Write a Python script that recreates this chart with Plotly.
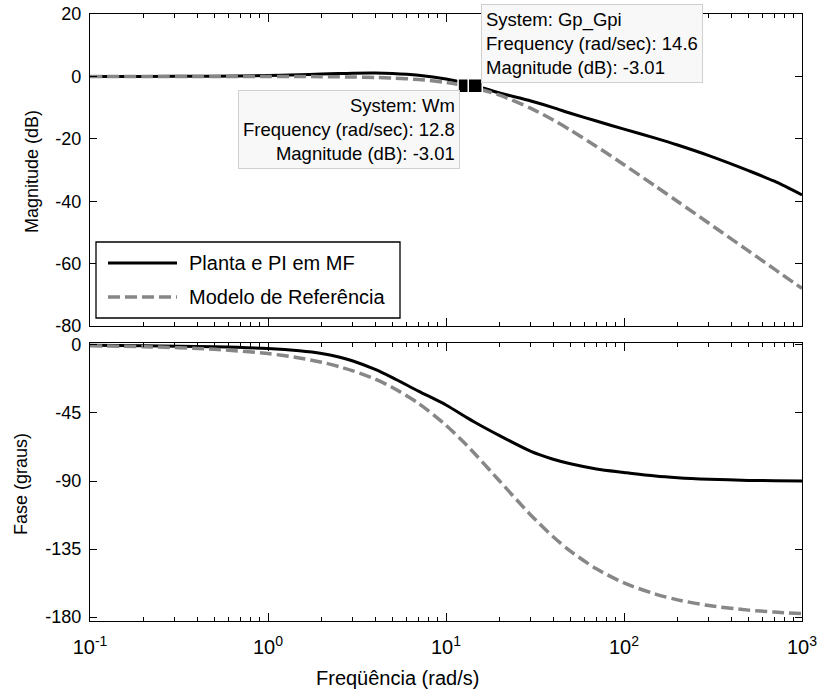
import plotly.graph_objects as go

# Frequency grid (rad/s)
freq = [0.1, 0.2, 0.5, 1, 1.5, 2, 2.5, 3, 4, 5, 7, 10, 12.8, 14.6, 20, 30,
        40, 50, 70, 100, 150, 200, 300, 500, 700, 1000]

# Closed loop: plant + PI controller
planta_mag = [0.0, 0.0, 0.05, 0.25, 0.5, 0.75, 0.9, 1.0, 1.05, 0.9, 0.35,
              -0.8, -2.1, -3.01, -5.3, -7.9, -10.0, -11.8, -14.3, -16.9,
              -19.8, -22.0, -25.4, -30.2, -33.6, -38.0]
planta_fase = [-0.2, -0.5, -1.2, -2.4, -3.9, -5.7, -8.0, -10.6, -16.2,
               -21.6, -30.5, -39.7, -47.3, -51.3, -60.0, -70.4, -75.6, -78.6,
               -82.0, -84.3, -86.7, -87.8, -88.8, -89.6, -89.8, -90.0]

# Reference model
modelo_mag = [0.0, 0.0, -0.01, -0.02, -0.05, -0.09, -0.13, -0.19, -0.34,
              -0.53, -1.0, -1.94, -3.01, -3.71, -6.02, -10.24, -13.98,
              -17.21, -22.44, -28.3, -35.16, -40.09, -47.08, -55.93, -61.77,
              -67.96]
modelo_fase = [-0.6, -1.1, -2.9, -5.7, -8.6, -11.4, -14.3, -17.1, -22.6,
               -28.1, -38.6, -53.1, -65.2, -72.3, -90.0, -112.6, -126.9,
               -136.4, -148.1, -157.4, -164.8, -168.6, -172.4, -175.4,
               -176.7, -177.7]

# Data tips
tip_gp = dict(system="Gp_Gpi", w=14.6, mag=-3.01)
tip_wm = dict(system="Wm", w=12.8, mag=-3.01)

x_major = [0.1, 1, 10, 100, 1000]
x_major_text = ["10<sup>-1</sup>", "10<sup>0</sup>", "10<sup>1</sup>",
                "10<sup>2</sup>", "10<sup>3</sup>"]
x_minor = [m * d for d in (0.1, 1, 10, 100) for m in range(2, 10)]
mag_ticks = [-80, -60, -40, -20, 0, 20]
fase_ticks = [-180, -135, -90, -45, 0]

BLACK = "#000000"
GRAY = "#878787"
FONT = "Liberation Sans, Arial, sans-serif"

W, H = 819, 690
L, R, T, B = 90, 802, 14, 621


def px(x):
    return (x - L) / (R - L)


def py(y):
    return (B - y) / (B - T)


fig = go.Figure()

line_black = dict(color=BLACK, width=3, shape="spline", smoothing=0.8)
line_gray = dict(color=GRAY, width=3.5, dash="12px,5px", shape="spline",
                 smoothing=0.8)

fig.add_trace(go.Scatter(x=freq, y=planta_mag, mode="lines", line=line_black,
                         name="Planta e PI em MF", xaxis="x", yaxis="y"))
fig.add_trace(go.Scatter(x=freq, y=modelo_mag, mode="lines", line=line_gray,
                         name="Modelo de Referência", xaxis="x", yaxis="y"))
fig.add_trace(go.Scatter(x=freq, y=planta_fase, mode="lines", line=line_black,
                         name="Planta e PI em MF", xaxis="x2", yaxis="y2"))
fig.add_trace(go.Scatter(x=freq, y=modelo_fase, mode="lines", line=line_gray,
                         name="Modelo de Referência", xaxis="x2", yaxis="y2"))

# data tip markers
for tip in (tip_wm, tip_gp):
    fig.add_trace(go.Scatter(
        x=[tip["w"]], y=[tip["mag"]], mode="markers",
        marker=dict(symbol="square", size=14, color=BLACK,
                    line=dict(color="white", width=1.5)),
        xaxis="x", yaxis="y"))

h_top = (B - 326) / (B - T)
h_bot = (B - 343) / (B - T)

common_x = dict(type="log", range=[-1, 3], showgrid=False, zeroline=False,
                automargin=False,
                showline=True, linecolor=BLACK, linewidth=1.3, mirror="ticks",
                ticks="inside", ticklen=8, tickwidth=1, tickcolor=BLACK,
                tickmode="array", tickvals=x_major,
                minor=dict(tickmode="array", tickvals=x_minor, ticks="inside",
                           ticklen=4, tickwidth=1, tickcolor=BLACK))
common_y = dict(showgrid=False, zeroline=False, showline=True, linecolor=BLACK,
                automargin=False,
                linewidth=1.3, mirror="ticks", ticks="inside", ticklen=7,
                tickwidth=1, tickcolor=BLACK, tickmode="array",
                tickfont=dict(family=FONT, size=18, color=BLACK),
                ticklabelstandoff=4)

fig.update_layout(
    width=W, height=H,
    margin=dict(l=L, r=W - R, t=T, b=H - B, autoexpand=False),
    paper_bgcolor="white", plot_bgcolor="white",
    showlegend=False,
    xaxis=dict(common_x, domain=[0, 1], anchor="y", showticklabels=False),
    yaxis=dict(common_y, domain=[h_top, 1], anchor="x", range=[-80, 20],
               tickvals=mag_ticks, ticktext=[str(v) for v in mag_ticks]),
    xaxis2=dict(common_x, domain=[0, 1], anchor="y2", matches="x",
                ticktext=x_major_text, ticklabelstandoff=8,
                tickfont=dict(family=FONT, size=20, color=BLACK)),
    yaxis2=dict(common_y, domain=[0, h_bot], anchor="x2", range=[-182.6, 1.3],
                tickvals=fase_ticks, ticktext=[str(v) for v in fase_ticks]),
)

annotations = [
    dict(text="Magnitude (dB)", x=px(32), y=py(172), textangle=-90,
         font=dict(family=FONT, size=18, color=BLACK)),
    dict(text="Fase (graus)", x=px(21), y=py(484), textangle=-90,
         font=dict(family=FONT, size=18, color=BLACK)),
    dict(text="Freqüência (rad/s)", x=px(397), y=py(678),
         font=dict(family=FONT, size=20, color=BLACK)),
    dict(text=(f"System: {tip_gp['system']}<br>Frequency (rad/sec): "
               f"{tip_gp['w']}<br>Magnitude (dB): {tip_gp['mag']}"),
         x=px(481), y=py(4), xanchor="left", yanchor="top", align="left",
         bgcolor="#f8f8f8", bordercolor="#d0d0d0", borderwidth=1, borderpad=4,
         font=dict(family=FONT, size=18.5, color=BLACK)),
    dict(text=(f"System: {tip_wm['system']}<br>Frequency (rad/sec): "
               f"{tip_wm['w']}<br>Magnitude (dB): {tip_wm['mag']}"),
         x=px(460), y=py(90), xanchor="right", yanchor="top", align="right",
         bgcolor="#f8f8f8", bordercolor="#d0d0d0", borderwidth=1, borderpad=4,
         font=dict(family=FONT, size=18.5, color=BLACK)),
    # legend entries
    dict(text="Planta e PI em MF", x=px(187), y=py(263), xanchor="left",
         font=dict(family=FONT, size=20, color=BLACK)),
    dict(text="Modelo de Referência", x=px(187), y=py(297), xanchor="left",
         font=dict(family=FONT, size=20, color=BLACK)),
]
for a in annotations:
    a.setdefault("xref", "paper")
    a.setdefault("yref", "paper")
    a.setdefault("xanchor", "center")
    a.setdefault("yanchor", "middle")
    a.setdefault("showarrow", False)
fig.update_layout(annotations=annotations)

shapes = [
    dict(type="rect", x0=px(96), x1=px(400), y0=py(318), y1=py(242),
         line=dict(color=BLACK, width=1.3), fillcolor="white", layer="above"),
    dict(type="line", x0=px(108), x1=px(177), y0=py(263), y1=py(263),
         line=dict(color=BLACK, width=3)),
    dict(type="line", x0=px(108), x1=px(177), y0=py(297), y1=py(297),
         line=dict(color=GRAY, width=3.5, dash="12px,5px")),
]
for s in shapes:
    s["xref"] = "paper"
    s["yref"] = "paper"
fig.update_layout(shapes=shapes)

fig.write_html("out.html")
